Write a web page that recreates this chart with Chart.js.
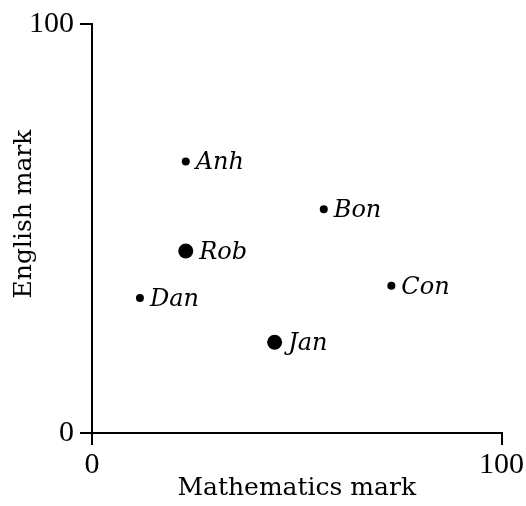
<!DOCTYPE html>
<html>
<head>
<meta charset="utf-8">
<script src="https://cdn.jsdelivr.net/npm/chart.js@4"></script>
<style>
  html, body { margin: 0; padding: 0; background: #fff; }
  #wrap { width: 526px; height: 506px; }
</style>
</head>
<body>
<div id="wrap"><canvas id="chart" width="526" height="506"></canvas></div>
<script>
// Pupils' marks in two subjects
const students = ['Anh', 'Bon', 'Rob', 'Con', 'Dan', 'Jan'];
const mathMarks = [22.9, 56.6, 22.9, 73.1, 11.7, 44.6];
const englishMarks = [66.4, 54.7, 44.5, 36.0, 33.0, 22.2];
const bigMarkers = ['Rob', 'Jan']; // drawn with a larger dot
const axisTicks = [0, 100];

const serif = '"DejaVu Serif", serif';
const tickFont = { family: '"Liberation Serif", serif', size: 30 };

// Labels next to each dot + rotated y title
const labelPlugin = {
    id: 'pointLabels',
    afterDatasetsDraw(chart) {
        const ctx = chart.ctx;
        const meta = chart.getDatasetMeta(0);
        ctx.save();
        ctx.fillStyle = '#000';
        ctx.font = 'italic 24px ' + serif;
        ctx.textAlign = 'left';
        ctx.textBaseline = 'alphabetic';
        meta.data.forEach((pt, i) => {
            const r = pt.options.radius;
            ctx.fillText(students[i], pt.x + r + 6, pt.y + 8);
        });
        ctx.restore();

        // y axis title
        ctx.save();
        ctx.font = '25px ' + serif;
        ctx.fillStyle = '#000';
        ctx.textAlign = 'center';
        ctx.textBaseline = 'middle';
        ctx.translate(24, 214);
        ctx.rotate(-Math.PI / 2);
        ctx.fillText('English mark', 0, 0);
        ctx.restore();
    }
};

new Chart(document.getElementById('chart').getContext('2d'), {
    type: 'scatter',
    data: {
        datasets: [{
            label: 'Marks',
            data: students.map((s, i) => ({ x: mathMarks[i], y: englishMarks[i] })),
            backgroundColor: '#000',
            borderWidth: 0,
            pointRadius: students.map(s => bigMarkers.includes(s) ? 7.5 : 4),
            pointHoverRadius: students.map(s => bigMarkers.includes(s) ? 7.5 : 4)
        }]
    },
    options: {
        responsive: false,
        animation: false,
        events: [],
        layout: { padding: { top: 22, right: 24, left: 0, bottom: 0 } },
        plugins: { legend: { display: false }, tooltip: { enabled: false } },
        scales: {
            x: {
                type: 'linear',
                min: 0, max: 100,
                afterBuildTicks: s => { s.ticks = axisTicks.map(v => ({ value: v })); },
                afterFit: s => { s.height = 73; },
                grid: { drawOnChartArea: false, drawTicks: true, tickLength: 12, color: '#000', lineWidth: 2 },
                border: { display: true, color: '#000', width: 2 },
                ticks: { color: '#000', font: tickFont, padding: 2, maxRotation: 0 },
                title: { display: true, text: 'Mathematics mark', color: '#000', font: { family: serif, size: 25 }, padding: { top: 0, bottom: 3 } }
            },
            y: {
                type: 'linear',
                min: 0, max: 100,
                afterBuildTicks: s => { s.ticks = axisTicks.map(v => ({ value: v })); },
                afterFit: s => { s.width = 92; },
                grid: { drawOnChartArea: false, drawTicks: true, tickLength: 12, color: '#000', lineWidth: 2 },
                border: { display: true, color: '#000', width: 2 },
                ticks: { color: '#000', font: tickFont, padding: 6 }
            }
        }
    },
    plugins: [labelPlugin]
});
</script>
</body>
</html>
